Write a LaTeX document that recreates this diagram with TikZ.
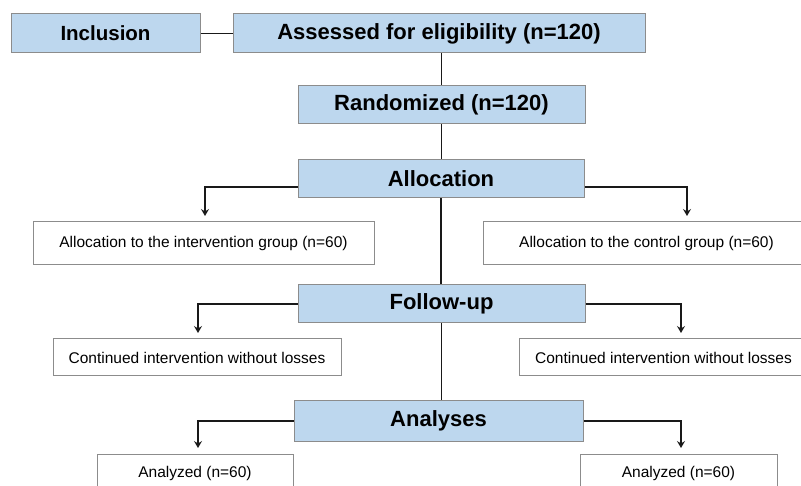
\documentclass[tikz,border=0pt]{standalone}
\usepackage{fontspec}
\setmainfont{Liberation Sans}
\usetikzlibrary{arrows.meta}
\definecolor{boxblue}{RGB}{189,215,238}
\definecolor{boxline}{RGB}{140,140,140}
\begin{document}
\begin{tikzpicture}[x=1pt, y=-1pt,
  stage/.style={draw=boxline, fill=boxblue, line width=1pt, inner sep=0pt,
    font=\fontsize{22}{26}\selectfont\bfseries, minimum height=38pt},
  group/.style={draw=boxline, fill=white, line width=1pt, inner sep=0pt,
    font=\fontsize{15.5}{18}\selectfont, minimum height=43pt},
  link/.style={line width=1.8pt, black!90},
  flow/.style={link, -{Stealth[length=7pt, width=8pt, inset=2.5pt]}, shorten >=5.5pt}]
  \useasboundingbox (0,0) rectangle (801,486);
  \clip (0,0) rectangle (801,486);
  \node[stage, minimum width=189pt, minimum height=39pt,
    font=\fontsize{20.5}{24}\selectfont\bfseries] (incl) at (105.5,33.5) {Inclusion};
  \node[stage, minimum width=412pt, minimum height=39pt] (assess) at (439,33.5) {Assessed for eligibility (n=120)};
  \node[stage, minimum width=287pt] (rand) at (441.5,105) {Randomized (n=120)};
  \node[stage, minimum width=286pt] (alloc) at (441,179) {Allocation};
  \node[group, minimum width=341pt] (allocI) at (203.5,243.5) {Allocation to the intervention group (n=60)};
  \node[group, minimum width=327pt] (allocC) at (646.5,243.5) {Allocation to the control group (n=60)};
  \node[stage, minimum width=287pt] (follow) at (441.5,304) {Follow-up};
  \node[group, minimum width=288pt, minimum height=37pt] (contI) at (197,357.5) {Continued intervention without losses};
  \node[group, minimum width=288pt, minimum height=37pt] (contC) at (663.5,357.5) {Continued intervention without losses};
  \node[stage, minimum width=289pt, minimum height=40pt] (anal) at (438.5,421) {Analyses};
  \node[group, minimum width=196pt, minimum height=38pt] (anI) at (195,473) {Analyzed (n=60)};
  \node[group, minimum width=197pt, minimum height=38pt] (anC) at (678.5,473) {Analyzed (n=60)};

  \draw[link] (incl) -- (assess);
  \draw[link] (assess.south -| rand.north) -- (rand.north);
  \draw[link] (rand.south) -- (rand.south |- alloc.north);
  \draw[link] (alloc.south) -- (alloc.south |- follow.north);
  \draw[link] (follow.south) -- (follow.south |- anal.north);

  \draw[flow] ([yshift=-8pt]alloc.west) -| ([xshift=1.5pt]allocI.north);
  \draw[flow] ([yshift=-8pt]alloc.east) -| ([xshift=40.5pt]allocC.north);
  \draw[flow] (follow.west) -| ([xshift=1pt]contI.north);
  \draw[flow] (follow.east) -| ([xshift=17.5pt]contC.north);
  \draw[flow] (anal.west) -| ([xshift=3pt]anI.north);
  \draw[flow] (anal.east) -| ([xshift=2.5pt]anC.north);
\end{tikzpicture}
\end{document}
